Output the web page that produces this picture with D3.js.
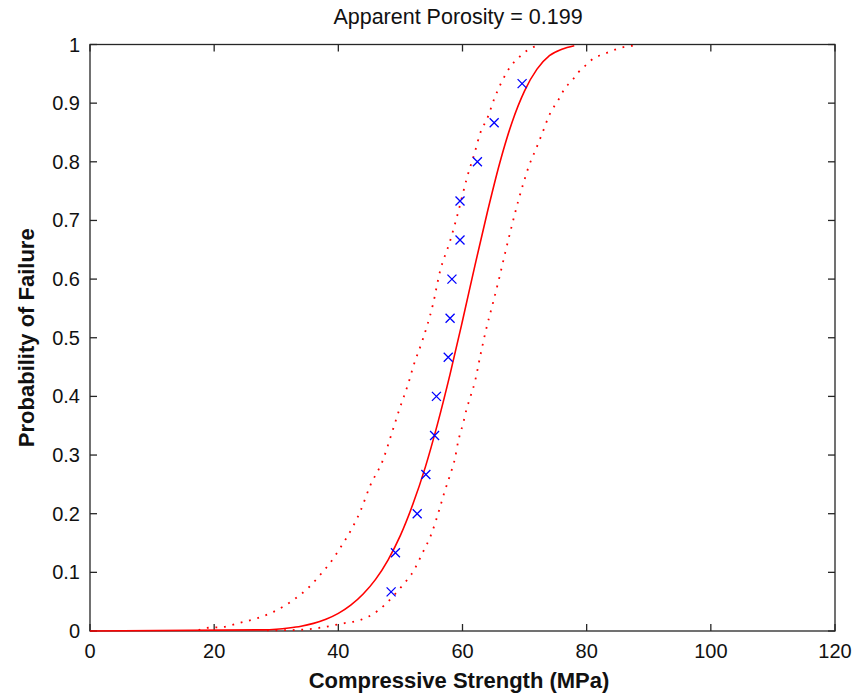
<!DOCTYPE html>
<html>
<head>
<meta charset="utf-8">
<script src="https://cdn.jsdelivr.net/npm/d3@7"></script>
<style>
  body { margin: 0; background: #fff; }
  svg { display: block; font-family: "Liberation Sans", Arial, sans-serif; }
</style>
</head>
<body>
<script>
// measured sample points (strength MPa)
const sampleStrength = [48.5, 49.2, 52.7, 54.1, 55.5, 55.8, 57.7, 58.0, 58.3, 59.6, 59.6, 62.4, 65.1, 69.6];
const sampleProb = [0.0667, 0.1333, 0.2, 0.2667, 0.3333, 0.4, 0.4667, 0.5333, 0.6, 0.6667, 0.7333, 0.8, 0.8667, 0.9333];

// fitted curve
const fitX = [0, 28, 30, 32, 34, 36, 38, 40, 42, 44, 46, 48, 50, 52, 54, 56, 58, 60, 62, 64, 66, 68, 70, 72, 74, 76, 78];
const fitP = [0, 0.002, 0.003, 0.005, 0.008, 0.013, 0.020, 0.030, 0.044, 0.063, 0.088, 0.121, 0.163, 0.216, 0.279, 0.354, 0.438, 0.529, 0.623, 0.714, 0.798, 0.868, 0.921, 0.958, 0.981, 0.992, 0.998];

// lower bound (left dotted)
const lowX = [17.5, 18.6, 21.5, 24.2, 27.0, 29.8, 32.5, 35.3, 37.5, 38.6, 40.5, 42.2, 43.5, 45.1, 47.2, 48.6, 49.9, 51.3, 52.1, 53.6, 55.2, 56.4, 58.0, 59.2, 60.7, 62.0, 62.8, 64.1, 65.1, 66.3, 67.9, 69.3, 70.7, 72.1];
const lowP = [0.001, 0.005, 0.007, 0.014, 0.022, 0.034, 0.051, 0.075, 0.101, 0.115, 0.145, 0.175, 0.203, 0.247, 0.292, 0.337, 0.380, 0.423, 0.452, 0.497, 0.555, 0.614, 0.665, 0.710, 0.772, 0.817, 0.847, 0.877, 0.907, 0.936, 0.965, 0.980, 0.992, 0.998];

// upper bound (right dotted)
const highX = [28.5, 33.8, 36.7, 40.8, 43.6, 46.3, 47.7, 50.2, 52.2, 53.6, 54.9, 56.3, 57.1, 58.0, 58.8, 59.3, 60.1, 60.7, 61.2, 62.0, 62.9, 63.8, 64.9, 65.9, 66.9, 67.9, 69.0, 69.8, 70.7, 71.8, 72.9, 74.0, 74.8, 75.7, 76.4, 77.6, 78.7, 79.9, 81.2, 82.6, 84.0, 85.4, 86.7, 88.1];
const highP = [0.001, 0.002, 0.005, 0.013, 0.019, 0.034, 0.047, 0.076, 0.104, 0.134, 0.163, 0.208, 0.237, 0.266, 0.295, 0.323, 0.354, 0.380, 0.397, 0.425, 0.471, 0.514, 0.559, 0.601, 0.646, 0.689, 0.734, 0.763, 0.793, 0.821, 0.850, 0.880, 0.895, 0.910, 0.924, 0.938, 0.953, 0.965, 0.977, 0.983, 0.989, 0.994, 0.997, 0.998];

const xTicks = [0, 20, 40, 60, 80, 100, 120];
const yTicks = [0, 0.1, 0.2, 0.3, 0.4, 0.5, 0.6, 0.7, 0.8, 0.9, 1];

const W = 856, H = 698;
const box = { left: 90, right: 835, top: 44.5, bottom: 631 };

const svg = d3.select("body").append("svg").attr("width", W).attr("height", H);

const x = d3.scaleLinear().domain([0, 120]).range([box.left, box.right]);
const y = d3.scaleLinear().domain([0, 1]).range([box.bottom, box.top]);

// axes box and ticks first (ticks point inward on all sides), curves go on top
const axisColor = "#262626";
const tickLen = 7;
const axes = svg.append("g").attr("stroke", axisColor).attr("stroke-width", 1.3);

axes.append("rect")
  .attr("x", box.left).attr("y", box.top)
  .attr("width", box.right - box.left).attr("height", box.bottom - box.top)
  .attr("fill", "none");

xTicks.forEach((t) => {
  axes.append("line").attr("x1", x(t)).attr("x2", x(t)).attr("y1", box.bottom).attr("y2", box.bottom - tickLen);
  axes.append("line").attr("x1", x(t)).attr("x2", x(t)).attr("y1", box.top).attr("y2", box.top + tickLen);
});
yTicks.forEach((t) => {
  axes.append("line").attr("y1", y(t)).attr("y2", y(t)).attr("x1", box.left).attr("x2", box.left + tickLen);
  axes.append("line").attr("y1", y(t)).attr("y2", y(t)).attr("x1", box.right).attr("x2", box.right - tickLen);
});

const plot = svg.append("g");
plot.append("defs").append("clipPath").attr("id", "clip")
  .append("rect")
  .attr("x", box.left).attr("y", box.top - 1)
  .attr("width", box.right - box.left).attr("height", box.bottom - box.top + 2);

const line = d3.line().x((d) => x(d[0])).y((d) => y(d[1])).curve(d3.curveMonotoneX);
const zip = (a, b) => a.map((v, i) => [v, b[i]]);

const curves = plot.append("g").attr("clip-path", "url(#clip)");

// dotted bounds
[zip(lowX, lowP), zip(highX, highP)].forEach((pts) => {
  curves.append("path")
    .attr("d", line(pts))
    .attr("fill", "none")
    .attr("stroke", "#ff0000")
    .attr("stroke-width", 1.8)
    .attr("stroke-dasharray", "1.8,6.8");
});

// fitted curve
curves.append("path")
  .attr("d", line(zip(fitX, fitP)))
  .attr("fill", "none")
  .attr("stroke", "#ff0000")
  .attr("stroke-width", 1.6);

// markers
const m = 4.5;
plot.selectAll(".mark")
  .data(zip(sampleStrength, sampleProb))
  .enter()
  .append("path")
  .attr("class", "mark")
  .attr("d", (d) => {
    const cx = x(d[0]), cy = y(d[1]);
    return `M${cx - m},${cy - m}L${cx + m},${cy + m}M${cx - m},${cy + m}L${cx + m},${cy - m}`;
  })
  .attr("stroke", "#0000ff")
  .attr("stroke-width", 1.3)
  .attr("fill", "none");

// tick labels
const labels = svg.append("g").attr("fill", "#111").attr("font-size", 20);
labels.selectAll(".xt")
  .data(xTicks)
  .enter()
  .append("text")
  .attr("x", (d) => x(d))
  .attr("y", 658)
  .attr("text-anchor", "middle")
  .text((d) => d);

labels.selectAll(".yt")
  .data(yTicks)
  .enter()
  .append("text")
  .attr("x", box.left - 10)
  .attr("y", (d) => y(d) + 7)
  .attr("text-anchor", "end")
  .text((d) => d3.format("~g")(d));

// title and axis labels
svg.append("text")
  .attr("x", 458).attr("y", 24)
  .attr("text-anchor", "middle")
  .attr("font-size", 21.5)
  .attr("fill", "#111")
  .text("Apparent Porosity = 0.199");

svg.append("text")
  .attr("x", 459).attr("y", 688)
  .attr("text-anchor", "middle")
  .attr("font-size", 22)
  .attr("font-weight", "bold")
  .attr("fill", "#111")
  .text("Compressive Strength (MPa)");

svg.append("text")
  .attr("transform", `translate(34, ${(box.top + box.bottom) / 2}) rotate(-90)`)
  .attr("text-anchor", "middle")
  .attr("font-size", 22)
  .attr("font-weight", "bold")
  .attr("fill", "#111")
  .text("Probability of Failure");
</script>
</body>
</html>
